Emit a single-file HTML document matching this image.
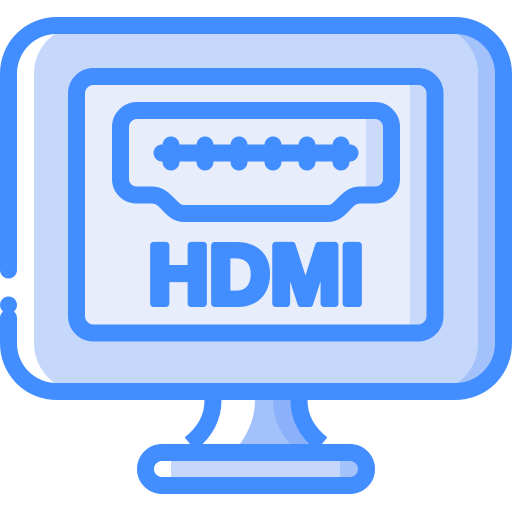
<!DOCTYPE html>
<html><head><style>html,body{margin:0;padding:0;background:#fff}svg{display:block}</style></head>
<body>
<svg width="512" height="512" viewBox="0 0 512 512" xmlns="http://www.w3.org/2000/svg">
<!-- stand neck -->
<path d="M213 400 C213 418 205 432 190 444 L322 444 C307 432 299 418 299 400 Z" fill="#A3C1FA"/>
<path d="M215 400 C215 418 205 432 190 444 L240 444 C250 430 255 415 255 400 Z" fill="#fff"/>
<path d="M273 400 C273 418 280 432 290 444 L322 444 C307 432 299 418 299 400 Z" fill="#8AB1F9"/>
<path d="M213 400 C213 418 205 432 190 444 M299 400 C299 418 307 432 322 444" fill="none" stroke="#428DFF" stroke-width="17"/>
<!-- base -->
<rect x="145.5" y="452.5" width="221" height="33" rx="16.5" fill="#C5D8FB"/>
<path d="M162 452.5 L171 452.5 L171 485.5 L162 485.5 A16.5 16.5 0 0 1 162 452.5Z" fill="#fff"/>
<path d="M340 452.5 L350 452.5 A16.5 16.5 0 0 1 350 485.5 L340 485.5Z" fill="#A3C1FA"/>
<rect x="145.5" y="452.5" width="221" height="33" rx="16.5" fill="none" stroke="#428DFF" stroke-width="17"/>
<!-- monitor body -->
<rect x="8.5" y="25.5" width="495" height="366" rx="48" fill="#C5D8FB"/>
<path d="M56 25.5 L82 25.5 A48 48 0 0 0 34 73.5 L34 343.5 A48 48 0 0 0 82 391.5 L56 391.5 A48 48 0 0 1 8.5 343.5 L8.5 73.5 A48 48 0 0 1 56 25.5Z" fill="#fff"/>
<path d="M430 25.5 L456 25.5 A48 48 0 0 1 503.5 73.5 L503.5 343.5 A48 48 0 0 1 456 391.5 L430 391.5 A48 48 0 0 0 478 343.5 L478 73.5 A48 48 0 0 0 430 25.5Z" fill="#A3C1FA"/>
<path d="M8.5 270 L8.5 73.5 A48 48 0 0 1 56.5 25.5 L455.5 25.5 A48 48 0 0 1 503.5 73.5 L503.5 343.5 A48 48 0 0 1 455.5 391.5 L56.5 391.5 A48 48 0 0 1 8.5 343.5 L8.5 318" fill="none" stroke="#428DFF" stroke-width="17" stroke-linecap="round"/>
<circle cx="8.5" cy="305" r="8.5" fill="#428DFF"/>
<!-- screen -->
<rect x="76.5" y="76.5" width="358.5" height="256.5" rx="17" fill="#E7EDFB"/>
<path d="M410 76.5 L418 76.5 A17 17 0 0 1 435 93.5 L435 316 A17 17 0 0 1 418 333 L410 333Z" fill="#C8D9FA"/>
<rect x="76.5" y="76.5" width="358.5" height="256.5" rx="17" fill="none" stroke="#428DFF" stroke-width="17"/>
<!-- port -->
<path d="M366 110.5 L383 110.5 L383 195 L366 195 Z" fill="#CBDAF9"/>
<path d="M137 110.5 L375 110.5 A16.5 16.5 0 0 1 391.5 127 L391.5 179 A16 16 0 0 1 375.5 195 L360 195 C345 195 342 213.5 328 213.5 L184 213.5 C170 213.5 167 195 152 195 L136.5 195 A16 16 0 0 1 120.5 179 L120.5 127 A16.5 16.5 0 0 1 137 110.5Z" fill="none" stroke="#428DFF" stroke-width="17" stroke-linejoin="round"/>
<line x1="162" y1="153" x2="350" y2="153" stroke="#428DFF" stroke-width="17" stroke-linecap="round"/>
<g stroke="#428DFF" stroke-width="17" stroke-linecap="round">
<line x1="171" y1="145" x2="171" y2="162"/>
<line x1="205" y1="145" x2="205" y2="162"/>
<line x1="239" y1="145" x2="239" y2="162"/>
<line x1="273" y1="145" x2="273" y2="162"/>
<line x1="307" y1="145" x2="307" y2="162"/>
<line x1="341" y1="145" x2="341" y2="162"/>
</g>
<text x="148" y="303.5" font-family="Liberation Sans, sans-serif" font-weight="bold" font-size="84" fill="#428DFF" stroke="#428DFF" stroke-width="7" stroke-linejoin="round" textLength="216" lengthAdjust="spacingAndGlyphs">HDMI</text>
</svg>
</body></html>
